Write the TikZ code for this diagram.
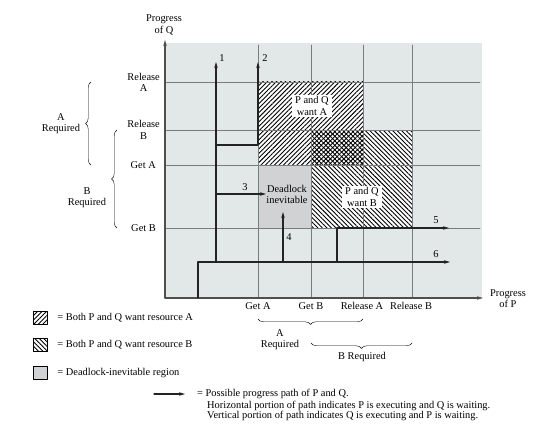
\documentclass[tikz,border=0pt]{standalone}
\usepackage{fontspec}
\setmainfont{Liberation Serif}
\usepackage{tikz}
\usetikzlibrary{arrows.meta, positioning, calc, patterns.meta, decorations.pathreplacing}
\definecolor{plotgray}{RGB}{226, 231, 231}
\definecolor{deadgray}{RGB}{208, 210, 211}
\definecolor{gridgray}{RGB}{120, 124, 124}
\definecolor{pathblack}{RGB}{35, 35, 35}
\tikzset{every node/.style={font=\fontsize{10.4}{11.2}\selectfont, inner sep=1pt, align=center}, every path/.style={line cap=round, line join=round}, >={Stealth[length=6pt, width=3.5pt]}}
\tikzset{
    gridline/.style={gridgray, line width=0.6pt},
    axisline/.style={->, pathblack!80, line width=1.2pt},
    progress/.style={pathblack, line width=1.3pt},
    hatchA/.style={pattern={Lines[angle=45, distance=3.2pt, line width=0.9pt]}},
    hatchB/.style={pattern={Lines[angle=-45, distance=3.2pt, line width=0.9pt]}},
    bracetip/.style={decorate, decoration={brace, amplitude=5.5pt}, line width=0.4pt},
    labelbox/.style={fill=white, inner xsep=3pt, inner ysep=1.5pt},
    swatch/.style={draw, line width=0.5pt, inner sep=0pt, minimum width=14pt, minimum height=13pt, preaction={fill=white}}
}

\begin{document}
\begin{tikzpicture}[x=1pt, y=-1pt]
    \useasboundingbox (0,0) rectangle (552,444);

    % plot area and regions
    \fill[plotgray] (165,43) rectangle (482,298);
    \fill[white] (258,82) rectangle (363,165);
    \fill[white] (311,130) rectangle (412,228);
    \fill[deadgray] (258,165) rectangle (311,228);
    \path[hatchA] (258,82) rectangle (363,165);
    \path[hatchB] (311,130) rectangle (412,228);

    % grid
    \foreach \x in {258,311,363,412}
        \draw[gridline] (\x,45) -- (\x,298);
    \foreach \y in {82,130,165,228}
        \draw[gridline] (165,\y) -- (480,\y);

    \node[labelbox] (wantA) at (312,106) {P and Q\\want A};
    \node[labelbox] (wantB) at (362,197) {P and Q\\want B};
    \node (dead) at (287,194.5) {Deadlock\\inevitable};

    % axes
    \coordinate (O) at (165,298);
    \coordinate (xend) at (483,298);
    \coordinate (yend) at (165,40);
    \draw[axisline] (O) -- (xend);
    \draw[axisline] (O) -- (yend);
    \node (progQ) at (164,25) {Progress\\of Q};
    \node (progP) at (508,299) {Progress\\of P};

    \node[anchor=east] (relA) at (161,82) {Release\\A};
    \node[anchor=east] (relB) at (161,130) {Release\\B};
    \node[anchor=east] (getA) at (157,165) {Get A};
    \node[anchor=east] (getB) at (157,228) {Get B};

    \node[anchor=base] (xgetA) at (258,309) {Get A};
    \node[anchor=base] (xgetB) at (311,309) {Get B};
    \node[anchor=base] (xrelA) at (362,309) {Release A};
    \node[anchor=base] (xrelB) at (411,309) {Release B};

    % braces
    \draw[bracetip] (91,165) -- (91,82);
    \node (reqA) at (61,124) {A\\Required};
    \draw[bracetip] (117,228) -- (117,130);
    \node (reqB) at (87,197.5) {B\\Required};
    \draw[bracetip] (363,319) -- (258,319);
    \node (reqAx) at (280,339.5) {A\\Required};
    \draw[bracetip] (412,343) -- (311,343);
    \node (reqBx) at (362,357) {B Required};

    % progress paths
    \coordinate (s0) at (198,298);
    \coordinate (s1) at (198,262);
    \coordinate (p1a) at (216,262);
    \coordinate (p1tip) at (216,62);
    \coordinate (p2a) at (216,145);
    \coordinate (p2b) at (258,145);
    \coordinate (p2tip) at (258,62);
    \coordinate (p3a) at (216,194);
    \coordinate (p3tip) at (266,194);
    \coordinate (p4a) at (283,262);
    \coordinate (p4tip) at (283,212);
    \coordinate (p5a) at (337,262);
    \coordinate (p5b) at (337,228);
    \coordinate (p5tip) at (449,228);
    \coordinate (p6tip) at (450,262);

    \draw[progress,->] (s0) -- (s1) -- (p6tip);
    \draw[progress,->] (p1a) -- (p1tip);
    \draw[progress,->] (p2a) -- (p2b) -- (p2tip);
    \draw[progress,->] (p3a) -- (p3tip);
    \draw[progress,->] (p4a) -- (p4tip);
    \draw[progress,->] (p5a) -- (p5b) -- (p5tip);

    \node (n1) at (222,58) {1};
    \node (n2) at (265,58) {2};
    \node (n3) at (245,187) {3};
    \node (n4) at (289,237) {4};
    \node (n5) at (436,220) {5};
    \node (n6) at (436,254) {6};

    % legend
    \node[swatch, hatchA] (swA) at (40,317.5) {};
    \node[anchor=west, right=9pt of swA] (legA) {= Both P and Q want resource A};
    \node[swatch, hatchB] (swB) at (40,345) {};
    \node[anchor=west, right=9pt of swB] (legB) {= Both P and Q want resource B};
    \node[swatch, fill=deadgray] (swD) at (40,373) {};
    \node[anchor=west, right=9pt of swD] (legD) {= Deadlock-inevitable region};

    \coordinate (legS) at (154,394);
    \coordinate (legE) at (185,394);
    \draw[progress,->] (legS) -- (legE);
    \node[anchor=west] (legP) at (196,394) {= Possible progress path of P and Q.};
    \node[anchor=north west, align=left, font=\fontsize{10.4}{10}\selectfont] (legHV) at ([xshift=10pt]legP.south west)
        {Horizontal portion of path indicates P is executing and Q is waiting.\\
         Vertical portion of path indicates Q is executing and P is waiting.};
\end{tikzpicture}
\end{document}
